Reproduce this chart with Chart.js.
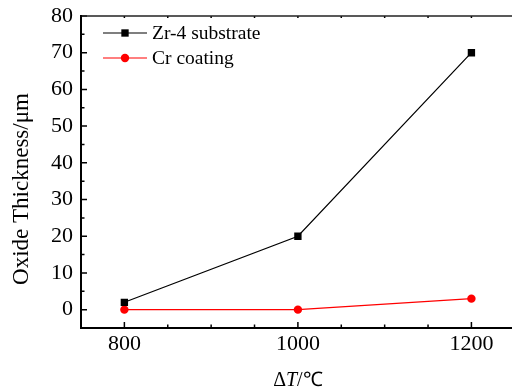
<!DOCTYPE html>
<html>
<head>
<meta charset="utf-8">
<script src="https://cdn.jsdelivr.net/npm/chart.js@4.4.1/dist/chart.umd.min.js"></script>
<style>
  body { margin: 0; background: #fff; overflow: hidden; }
  #wrap { width: 520px; height: 392px; }
</style>
</head>
<body>
<div id="wrap"><canvas id="c"></canvas></div>
<script>
// data
const temps = [800, 1000, 1200];
const zr4Thickness = [2, 20, 70];
const crThickness = [0, 0, 3];
const seriesNames = ['Zr-4 substrate', 'Cr coating'];

// axes
const xMajor = [800, 1000, 1200];
const xMinor = [850, 900, 950, 1050, 1100, 1150];
const yMajor = [0, 10, 20, 30, 40, 50, 60, 70, 80];
const yMinor = [5, 15, 25, 35, 45, 55, 65, 75];
const xTitle = ['\u0394', 'T', '/\u2103'];
const yTitle = 'Oxide Thickness/\u03bcm';

const SERIF = 'Liberation Serif';
Chart.defaults.font.family = SERIF;
Chart.defaults.font.size = 22;
Chart.defaults.color = '#000';

const toPoints = (xs, ys) => xs.map((x, i) => ({ x: x, y: ys[i] }));

// frame, inward ticks, titles and legend, Origin style
const originDecor = {
    id: 'originDecor',
    afterDatasetsDraw(chart) {
        const { ctx, chartArea: a, scales } = chart;
        const x = scales.x, y = scales.y;
        ctx.save();
        ctx.strokeStyle = '#000';

        ctx.lineWidth = 1.5;
        ctx.beginPath();
        xMajor.forEach(v => { const p = x.getPixelForValue(v); ctx.moveTo(p, a.bottom); ctx.lineTo(p, a.bottom - 6); ctx.moveTo(p, a.top); ctx.lineTo(p, a.top + 2); });
        xMinor.forEach(v => { const p = x.getPixelForValue(v); ctx.moveTo(p, a.bottom); ctx.lineTo(p, a.bottom - 3.5); ctx.moveTo(p, a.top); ctx.lineTo(p, a.top + 2); });
        yMajor.forEach(v => { const p = y.getPixelForValue(v); ctx.moveTo(a.left, p); ctx.lineTo(a.left + 6, p); });
        yMinor.forEach(v => { const p = y.getPixelForValue(v); ctx.moveTo(a.left, p); ctx.lineTo(a.left + 3.5, p); });
        ctx.stroke();

        // top edge is lighter (right edge falls outside the view)
        ctx.lineWidth = 1.5;
        ctx.strokeStyle = '#222';
        ctx.beginPath();
        ctx.moveTo(a.left, a.top); ctx.lineTo(a.right, a.top);
        ctx.stroke();

        ctx.lineWidth = 2;
        ctx.strokeStyle = '#000';
        ctx.beginPath();
        ctx.moveTo(a.left, a.top - 1); ctx.lineTo(a.left, a.bottom); ctx.lineTo(a.right, a.bottom);
        ctx.stroke();

        // legend
        ctx.font = '19.5px "' + SERIF + '"';
        ctx.textBaseline = 'middle';
        ctx.textAlign = 'left';
        chart.data.datasets.forEach((ds, i) => {
            const ly = a.top + 17 + i * 25;
            const lx = a.left + 22;
            ctx.strokeStyle = ds.borderColor;
            ctx.lineWidth = ds.borderWidth;
            ctx.beginPath();
            ctx.moveTo(lx, ly); ctx.lineTo(lx + 44, ly);
            ctx.stroke();
            ctx.fillStyle = ds.pointBackgroundColor;
            Chart.helpers.drawPoint(ctx, { pointStyle: ds.pointStyle, radius: ds.pointRadius, borderWidth: 0 }, lx + 22, ly);
            ctx.fillStyle = '#000';
            ctx.fillText(ds.label, lx + 49, ly + 1);
        });

        // y title
        ctx.save();
        ctx.translate(22, 189);
        ctx.rotate(-Math.PI / 2);
        ctx.font = '23px "' + SERIF + '"';
        ctx.textAlign = 'center';
        ctx.textBaseline = 'middle';
        ctx.fillStyle = '#000';
        ctx.fillText(yTitle, 0, 0);
        ctx.restore();

        // x title: Δ T/℃ with italic T
        ctx.fillStyle = '#000';
        ctx.textBaseline = 'alphabetic';
        const fonts = ['20px "' + SERIF + '"', 'italic 20px "' + SERIF + '"', '20px "' + SERIF + '"'];
        let w = 0;
        xTitle.forEach((s, i) => { ctx.font = fonts[i]; w += ctx.measureText(s).width; });
        let tx = x.getPixelForValue(1000) - w / 2;
        xTitle.forEach((s, i) => { ctx.font = fonts[i]; ctx.fillText(s, tx, 386); tx += ctx.measureText(s).width; });
        ctx.restore();
    }
};

new Chart(document.getElementById('c'), {
    type: 'line',
    data: {
        datasets: [{
            label: seriesNames[0],
            data: toPoints(temps, zr4Thickness),
            borderColor: '#000',
            borderWidth: 1.2,
            pointStyle: 'rect',
            pointRadius: 5.2,
            pointBorderWidth: 0,
            pointBackgroundColor: '#000',
            tension: 0
        }, {
            label: seriesNames[1],
            data: toPoints(temps, crThickness),
            borderColor: '#ff0000',
            borderWidth: 1.2,
            pointStyle: 'circle',
            pointRadius: 4.2,
            pointBorderWidth: 0,
            pointBackgroundColor: '#ff0000',
            tension: 0
        }]
    },
    options: {
        responsive: true,
        maintainAspectRatio: false,
        animation: false,
        layout: { padding: { top: 16, right: 4, left: 0, bottom: 0 } },
        plugins: { legend: { display: false }, tooltip: { enabled: false } },
        scales: {
            x: {
                type: 'linear',
                min: 750,
                max: 1250,
                afterBuildTicks: s => { s.ticks = xMajor.map(v => ({ value: v })); },
                afterFit: s => { s.height = 64; s.paddingLeft = 0; s.paddingRight = 0; },
                grid: { display: false, drawTicks: false, tickLength: 0 },
                border: { display: false },
                ticks: {
                    color: '#000', padding: 3, maxRotation: 0,
                    font: { family: SERIF, size: 22 },
                    callback: v => String(v)
                }
            },
            y: {
                type: 'linear',
                min: -5,
                max: 80,
                afterBuildTicks: s => { s.ticks = yMajor.map(v => ({ value: v })); },
                afterFit: s => { s.width = 81; s.paddingTop = 0; s.paddingBottom = 0; },
                grid: { display: false, drawTicks: false, tickLength: 0 },
                border: { display: false },
                ticks: {
                    color: '#000', padding: 8,
                    font: { family: SERIF, size: 22 },
                    callback: v => String(v)
                }
            }
        }
    },
    plugins: [originDecor]
});
</script>
</body>
</html>
